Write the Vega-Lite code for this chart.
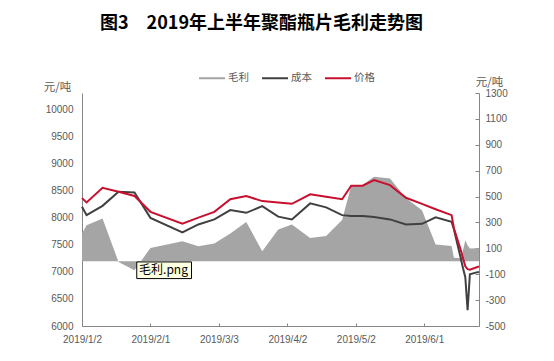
{
  "$schema": "https://vega.github.io/schema/vega-lite/v6.json",
  "width": 397,
  "height": 233,
  "autosize": "none",
  "padding": {"left": 82, "top": 93, "right": 75, "bottom": 35},
  "background": "white",
  "config": {
    "view": {"stroke": null},
    "axisY": {
      "labelOverlap": false,
      "labelFlush": false,
      "grid": false,
      "labelExpr": "'' + datum.value",
      "titleAngle": 0,
      "titleAlign": "center",
      "titleBaseline": "middle",
      "titleFont": "Noto Sans CJK SC",
      "titleFontSize": 11.5,
      "titleFontWeight": "normal",
      "titleColor": "#595959",
      "domainColor": "#868686",
      "tickColor": "#868686",
      "labelFont": "Liberation Sans",
      "labelFontSize": 10,
      "labelColor": "#595959"
    },
    "legend": {
      "orient": "none",
      "legendX": 116,
      "legendY": -29,
      "direction": "horizontal",
      "labelFont": "Noto Sans CJK SC",
      "labelFontSize": 10.5,
      "labelColor": "#595959",
      "symbolSize": 676,
      "symbolStrokeWidth": 2,
      "labelOffset": 2,
      "columnPadding": 9,
      "padding": 0
    }
  },
  "title": {
    "text": "图3　2019年上半年聚酯瓶片毛利走势图",
    "font": "Noto Sans CJK SC",
    "fontSize": 18,
    "fontWeight": "bold",
    "color": "#000000",
    "anchor": "middle",
    "dx": -19,
    "offset": 31
  },
  "datasets": {
    "main": [
      {"d": "2019/01/02", "价格": 8360, "成本": 8200, "毛利": 215},
      {"d": "2019/01/04", "价格": 8280, "成本": 8046, "毛利": 279},
      {"d": "2019/01/11", "价格": 8550, "成本": 8218, "毛利": 331},
      {"d": "2019/01/18", "价格": 8477, "成本": 8477, "毛利": -5},
      {"d": "2019/01/25", "价格": 8400, "成本": 8466, "毛利": -70},
      {"d": "2019/02/01", "价格": 8107, "成本": 7996, "毛利": 103},
      {"d": "2019/02/15", "价格": 7890, "成本": 7726, "毛利": 155},
      {"d": "2019/02/22", "价格": 8000, "成本": 7874, "毛利": 116},
      {"d": "2019/03/01", "价格": 8107, "成本": 7967, "毛利": 137},
      {"d": "2019/03/08", "价格": 8340, "成本": 8139, "毛利": 215},
      {"d": "2019/03/15", "价格": 8400, "成本": 8089, "毛利": 304},
      {"d": "2019/03/22", "价格": 8305, "成本": 8213, "毛利": 77},
      {"d": "2019/03/29", "价格": 8280, "成本": 8018, "毛利": 246},
      {"d": "2019/04/04", "价格": 8255, "成本": 7967, "毛利": 284},
      {"d": "2019/04/12", "价格": 8430, "成本": 8263, "毛利": 180},
      {"d": "2019/04/19", "价格": 8385, "成本": 8189, "毛利": 196},
      {"d": "2019/04/26", "价格": 8340, "成本": 8046, "毛利": 318},
      {"d": "2019/04/30", "价格": 8590, "成本": 8028, "毛利": 583},
      {"d": "2019/05/05", "价格": 8590, "成本": 8028, "毛利": 589},
      {"d": "2019/05/10", "价格": 8694, "成本": 8010, "毛利": 653},
      {"d": "2019/05/17", "价格": 8600, "成本": 7967, "毛利": 640},
      {"d": "2019/05/24", "价格": 8366, "成本": 7874, "毛利": 486},
      {"d": "2019/05/31", "价格": 8253, "成本": 7885, "毛利": 395},
      {"d": "2019/06/06", "价格": 8155, "成本": 8004, "毛利": 129},
      {"d": "2019/06/13", "价格": 8046, "成本": 7922, "毛利": 118},
      {"d": "2019/06/14", "价格": 7805, "成本": 7787, "毛利": 27},
      {"d": "2019/06/17", "价格": 7400, "成本": 7250, "毛利": 23},
      {"d": "2019/06/18", "价格": 7250, "成本": 7066, "毛利": 85},
      {"d": "2019/06/19", "价格": 7100, "成本": 6900, "毛利": 163},
      {"d": "2019/06/20", "价格": 7050, "成本": 6290, "毛利": 124},
      {"d": "2019/06/21", "价格": 7040, "成本": 6955, "毛利": 98},
      {"d": "2019/06/24", "价格": 7085, "成本": 6990, "毛利": 100},
      {"d": "2019/06/25", "价格": 7100, "成本": 6997, "毛利": 103}
    ],
    "note": [
      {"d1": "2019/01/26", "d2": "2019/02/19", "v1": 7182, "v2": 6875, "dt": "2019/01/27", "vt": 7028, "label": "毛利.png"}
    ]
  },
  "layer": [
    {
      "data": {"name": "main"},
      "mark": {"type": "area", "opacity": 1},
      "encoding": {
        "x": {
          "field": "d",
          "type": "temporal",
          "scale": {"domain": [{"year": 2019, "month": 1, "date": 2}, {"year": 2019, "month": 6, "date": 25}], "nice": false},
          "axis": {
            "values": [
              {"year": 2019, "month": 1, "date": 2},
              {"year": 2019, "month": 2, "date": 1},
              {"year": 2019, "month": 3, "date": 3},
              {"year": 2019, "month": 4, "date": 2},
              {"year": 2019, "month": 5, "date": 2},
              {"year": 2019, "month": 6, "date": 1}
            ],
            "format": "%Y/%-m/%-d",
            "title": null,
            "grid": false,
            "labelFont": "Liberation Sans",
            "labelFontSize": 10,
            "labelColor": "#595959",
            "domainColor": "#868686",
            "tickColor": "#868686",
            "tickSize": -3,
            "labelPadding": 11,
            "labelFlush": false,
            "labelOverlap": false
          }
        },
        "y": {
          "field": "毛利",
          "type": "quantitative",
          "scale": {"domain": [-500, 1300], "nice": false, "zero": false},
          "axis": {
            "orient": "right",
            "values": [-500, -300, -100, 100, 300, 500, 700, 900, 1100, 1300],
            "labelOverlap": false,
            "title": "元/吨",
            "titleX": 10,
            "titleY": -11,
            "tickSize": -4,
            "labelPadding": 10
          }
        },
        "y2": {"datum": 0},
        "color": {
          "datum": "毛利",
          "type": "nominal",
          "scale": {"domain": ["毛利", "成本", "价格"], "range": ["#a5a5a5", "#404040", "#c8102e"]},
          "legend": {
            "title": null,
            "symbolType": "stroke",
            "encode": {
              "symbols": {
                "update": {
                  "shape": {"signal": "datum.value === '毛利' ? 'M-1,-0.23H1V0.23H-1Z' : 'stroke'"},
                  "fill": {"signal": "datum.value === '毛利' ? '#a5a5a5' : 'transparent'"},
                  "stroke": {"signal": "datum.value === '毛利' ? 'transparent' : (datum.value === '成本' ? '#404040' : '#c8102e')"},
                  "strokeWidth": {"value": 2},
                  "size": {"value": 676},
                  "opacity": {"value": 1}
                }
              }
            }
          }
        }
      }
    },
    {
      "data": {"name": "main"},
      "transform": [{"fold": ["成本", "价格"], "as": ["series", "value"]}],
      "mark": {"type": "line", "strokeWidth": 2},
      "encoding": {
        "x": {"field": "d", "type": "temporal"},
        "y": {
          "field": "value",
          "type": "quantitative",
          "scale": {"domain": [6000, 10300], "nice": false, "zero": false},
          "axis": {
            "orient": "left",
            "values": [6000, 6500, 7000, 7500, 8000, 8500, 9000, 9500, 10000],
            "labelOverlap": false,
            "title": "元/吨",
            "titleX": -25,
            "titleY": -6,
            "ticks": false,
            "labelPadding": 9
          }
        },
        "color": {
          "field": "series",
          "type": "nominal",
          "legend": {"title": null}
        }
      }
    },
    {
      "data": {"name": "note"},
      "layer": [
        {
          "mark": {"type": "rect", "fill": "#ffffe1", "stroke": "#000000", "strokeWidth": 1},
          "encoding": {
            "x": {"field": "d1", "type": "temporal"},
            "x2": {"field": "d2"},
            "y": {"field": "v1", "type": "quantitative", "scale": {"domain": [6000, 10300], "nice": false, "zero": false}, "axis": null},
            "y2": {"field": "v2"}
          }
        },
        {
          "mark": {"type": "text", "align": "left", "baseline": "middle", "font": "Noto Sans CJK SC", "fontSize": 12, "color": "#000000"},
          "encoding": {
            "x": {"field": "dt", "type": "temporal"},
            "y": {"field": "vt", "type": "quantitative", "axis": null},
            "text": {"field": "label"}
          }
        }
      ]
    }
  ],
  "resolve": {"scale": {"y": "independent"}, "axis": {"y": "independent"}}
}
